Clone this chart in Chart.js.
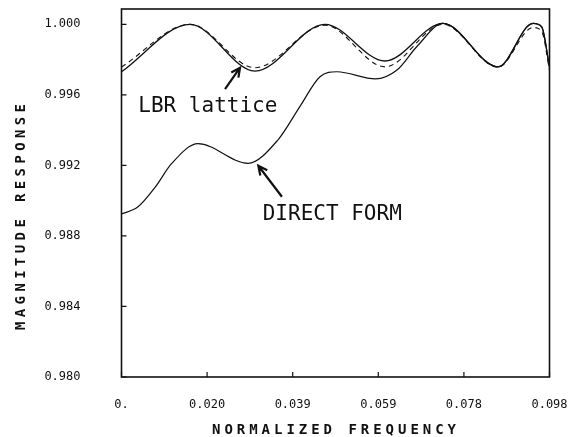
<!DOCTYPE html>
<html>
<head>
<meta charset="utf-8">
<script src="https://cdn.jsdelivr.net/npm/chart.js@4/dist/chart.umd.min.js"></script>
<style>
  html, body { margin: 0; padding: 0; background: #fff; }
  #wrap { width: 576px; height: 437px; }
</style>
</head>
<body>
<div id="wrap"><canvas id="chart" width="576" height="437"></canvas></div>
<script>
'use strict';

/* ── DATOS ── */
var xTickVals   = [0, 0.01953125, 0.0390625, 0.05859375, 0.078125, 0.09765625];
var xTickLabels = ['0.', '0.020', '0.039', '0.059', '0.078', '0.098'];
var yTickVals   = [0.980, 0.984, 0.988, 0.992, 0.996, 1.000];
var yTickLabels = ['0.980', '0.984', '0.988', '0.992', '0.996', '1.000'];

/* curva continua superior */
var freqSolid = [0, 0.01563, 0.03046, 0.04643, 0.06012, 0.07336, 0.08591, 0.09390, 0.09588, 0.09766];
var magSolid  = [0.99731, 1.00000, 0.99735, 1.00000, 0.99792, 1.00005, 0.99759, 1.00005, 0.99985, 0.99757];

/* LBR lattice (discontinua) */
var freqLbr = [0, 0.01563, 0.03046, 0.04643, 0.06012, 0.07336, 0.08591, 0.09390, 0.09588, 0.09766];
var magLbr  = [0.99758, 1.00000, 0.99754, 0.99995, 0.99759, 1.00000, 0.99757, 0.99982, 0.99960, 0.99740];

/* DIRECT FORM */
var freqDirect = [0, 0.00377, 0.00764, 0.01146, 0.01746, 0.02887, 0.03571, 0.04073, 0.04529, 0.04917,
                  0.05796, 0.06286, 0.06736, 0.07336, 0.08591, 0.09390, 0.09588, 0.09766];
var magDirect  = [0.98924, 0.98965, 0.99075, 0.99211, 0.99323, 0.99212, 0.99345, 0.99535, 0.99703, 0.99731,
                  0.99691, 0.99741, 0.99873, 1.00005, 0.99759, 1.00005, 0.99985, 0.99757];

/* textos y flechas, en coordenadas de datos */
var notes = [
  { text: 'LBR lattice', x: 0.00383, y: 0.99504, tail: [0.02362, 0.99633], head: [0.02704, 0.99754] },
  { text: 'DIRECT FORM', x: 0.03222, y: 0.98890, tail: [0.03661, 0.99022], head: [0.03122, 0.99198] }
];

var INK = '#111';

function toXY(xs, ys){
  return xs.map(function(x, i){ return { x: x, y: ys[i] }; });
}

/* ── PLUGIN: marco, ticks interiores, títulos y anotaciones ── */
var decor = {
  id: 'decor',
  afterDraw: function(chart){
    var ctx = chart.ctx, a = chart.chartArea;
    var xs = chart.scales.x, ys = chart.scales.y;
    ctx.save();
    ctx.strokeStyle = INK;
    ctx.fillStyle = INK;

    /* marco */
    ctx.lineWidth = 1.6;
    ctx.strokeRect(a.left, a.top, a.right - a.left, a.bottom - a.top);

    /* ticks hacia dentro */
    ctx.lineWidth = 1.2;
    ctx.beginPath();
    yTickVals.forEach(function(v){
      var py = ys.getPixelForValue(v);
      ctx.moveTo(a.left, py); ctx.lineTo(a.left + 5, py);
    });
    xTickVals.forEach(function(v){
      var px = xs.getPixelForValue(v);
      ctx.moveTo(px, a.bottom); ctx.lineTo(px, a.bottom - 5);
    });
    ctx.stroke();

    /* títulos de ejes, letra a letra */
    ctx.font = 'bold 14px "DejaVu Sans Mono", monospace';
    ctx.textAlign = 'center';
    ctx.textBaseline = 'middle';
    var xt = 'NORMALIZED FREQUENCY', pitch = 12.4;
    var x0 = 334 - pitch * (xt.length - 1) / 2;
    for (var i = 0; i < xt.length; i++) ctx.fillText(xt[i], x0 + i * pitch, 430);

    var yt = 'MAGNITUDE RESPONSE', pitchY = 12.8;
    ctx.save();
    ctx.translate(21, 217);
    ctx.rotate(-Math.PI / 2);
    var y0 = -pitchY * (yt.length - 1) / 2;
    for (var j = 0; j < yt.length; j++) ctx.fillText(yt[j], y0 + j * pitchY, 0);
    ctx.restore();

    /* anotaciones */
    ctx.font = '21px "DejaVu Sans Mono", monospace';
    ctx.textAlign = 'left';
    ctx.textBaseline = 'alphabetic';
    notes.forEach(function(n){
      ctx.fillText(n.text, xs.getPixelForValue(n.x), ys.getPixelForValue(n.y));
      var tx = xs.getPixelForValue(n.tail[0]), ty = ys.getPixelForValue(n.tail[1]);
      var hx = xs.getPixelForValue(n.head[0]), hy = ys.getPixelForValue(n.head[1]);
      var ang = Math.atan2(hy - ty, hx - tx), L = 10;
      ctx.lineWidth = 2.2;
      ctx.beginPath();
      ctx.moveTo(tx, ty); ctx.lineTo(hx, hy);
      ctx.moveTo(hx - L * Math.cos(ang - 0.45), hy - L * Math.sin(ang - 0.45));
      ctx.lineTo(hx, hy);
      ctx.lineTo(hx - L * Math.cos(ang + 0.45), hy - L * Math.sin(ang + 0.45));
      ctx.stroke();
    });
    ctx.restore();
  }
};

var tickFont = { family: '"DejaVu Sans Mono", monospace', size: 12 };

new Chart(document.getElementById('chart'), {
  type: 'line',
  data: {
    datasets: [
      { label: 'ideal', data: toXY(freqSolid, magSolid), borderColor: INK, borderWidth: 1.3 },
      { label: 'LBR lattice', data: toXY(freqLbr, magLbr), borderColor: INK, borderWidth: 1.1, borderDash: [5, 4] },
      { label: 'DIRECT FORM', data: toXY(freqDirect, magDirect), borderColor: INK, borderWidth: 1.2 }
    ]
  },
  options: {
    responsive: false,
    animation: false,
    elements: {
      point: { radius: 0 },
      line: { cubicInterpolationMode: 'monotone', fill: false }
    },
    layout: { padding: { top: 9, right: 26.5, left: 0, bottom: 0 } },
    plugins: { legend: { display: false }, tooltip: { enabled: false } },
    scales: {
      x: {
        type: 'linear', min: 0, max: 0.09765625,
        afterBuildTicks: function(s){ s.ticks = xTickVals.map(function(v){ return { value: v }; }); },
        afterFit: function(s){ s.height = 60; s.paddingLeft = 0; s.paddingRight = 0; },
        grid: { display: false, drawTicks: false },
        border: { display: false },
        ticks: {
          color: INK, font: tickFont, padding: 21, maxRotation: 0, autoSkip: false,
          callback: function(v, i){ return xTickLabels[i]; }
        }
      },
      y: {
        type: 'linear', min: 0.980, max: 1.00087,
        afterBuildTicks: function(s){ s.ticks = yTickVals.map(function(v){ return { value: v }; }); },
        afterFit: function(s){ s.width = 121.5; s.paddingTop = 0; s.paddingBottom = 0; },
        grid: { display: false, drawTicks: false },
        border: { display: false },
        ticks: {
          color: INK, font: tickFont, padding: 41, autoSkip: false,
          callback: function(v, i){ return yTickLabels[i]; }
        }
      }
    }
  },
  plugins: [decor]
});
</script>
</body>
</html>
